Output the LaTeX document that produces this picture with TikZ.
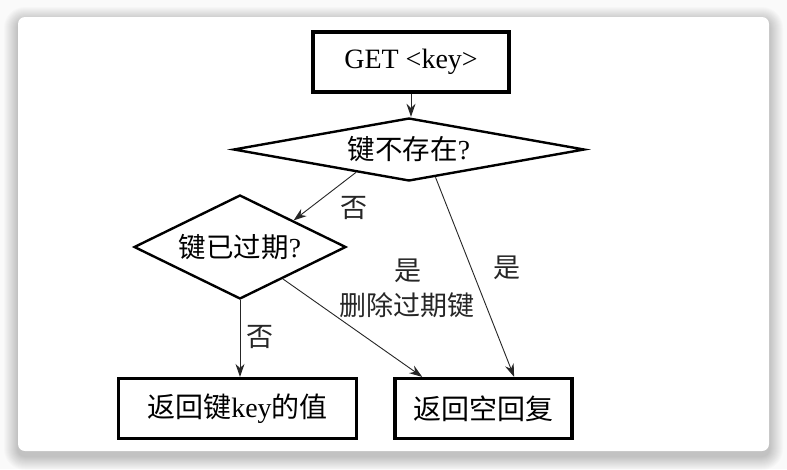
\documentclass[tikz,border=0pt]{standalone}
\usepackage{fontspec}
\setmainfont{Liberation Serif}
\newfontfamily\cjk{Noto Sans CJK SC}
\usetikzlibrary{shapes.geometric, arrows.meta, calc}

\begin{document}
\begin{tikzpicture}[x=1pt, y=-1pt]
    \tikzset{
        stepbox/.style={
                draw=black, line width=3.2pt, rectangle, inner sep=0pt,
                minimum height=60pt, font=\fontsize{28}{28}\selectfont
            },
        check/.style={
                draw=black, line width=2.4pt, diamond, inner sep=0pt,
                font=\fontsize{27.5}{27.5}\selectfont
            },
        flow/.style={-{Stealth[length=13pt, width=9pt]}, line width=0.9pt, draw=black!85},
        branch/.style={font=\fontsize{27}{27}\selectfont\cjk, text=black!85}
    }
    \useasboundingbox (0,0) rectangle (787,469);

    % Card and shadow
    \fill[black!2] (0,0) rectangle (787,469);
    \foreach \i in {1,...,14}
        \fill[black, opacity=0.016, rounded corners=7pt+\i pt] (18-\i,21-\i) rectangle (769+\i,456+\i);
    \fill[white, rounded corners=7pt] (18,17) rectangle (769,451);

    \node[stepbox, minimum width=196pt] (get) at (411,62) {GET <key>};
    \node[check, minimum width=351pt, minimum height=63pt, aspect=5.4] (exist) at (409,149.5) {{\cjk 键不存在}?};
    \node[check, minimum width=212pt, minimum height=104pt, aspect=2] (expired) at (240,247) {{\cjk 键已过期}?};
    \node[stepbox, minimum width=238pt] (value) at (237.5,408.5) {{\cjk 返回键}key{\cjk 的值}};
    \node[stepbox, minimum width=177pt] (nil) at (483.5,408.5) {\cjk 返回空回复};

    % Connectors
    \draw[flow] (get.south) -- (get.south |- exist.north);
    \draw[flow] ($(exist.south)!0.3!(exist.west)$) -- (expired.north east);
    \draw[flow] ($(exist.south)!0.15!(exist.east)$) -- ($(nil.north west)!0.67!(nil.north east)$);
    \draw[flow] ($(expired.south)!0.4!(expired.east)$) -- ($(nil.north west)!0.16!(nil.north east)$);
    \draw[flow] (expired.south) -- (expired.south |- value.north);

    \node[branch] (nokey) at (354,208) {否};
    \node[branch] (yeskey) at (507,268) {是};
    \node[branch] (yesexp) at (408,271) {是};
    \node[branch] (delexp) at (407,305) {删除过期键};
    \node[branch] (noexp) at (260,337) {否};
\end{tikzpicture}
\end{document}
